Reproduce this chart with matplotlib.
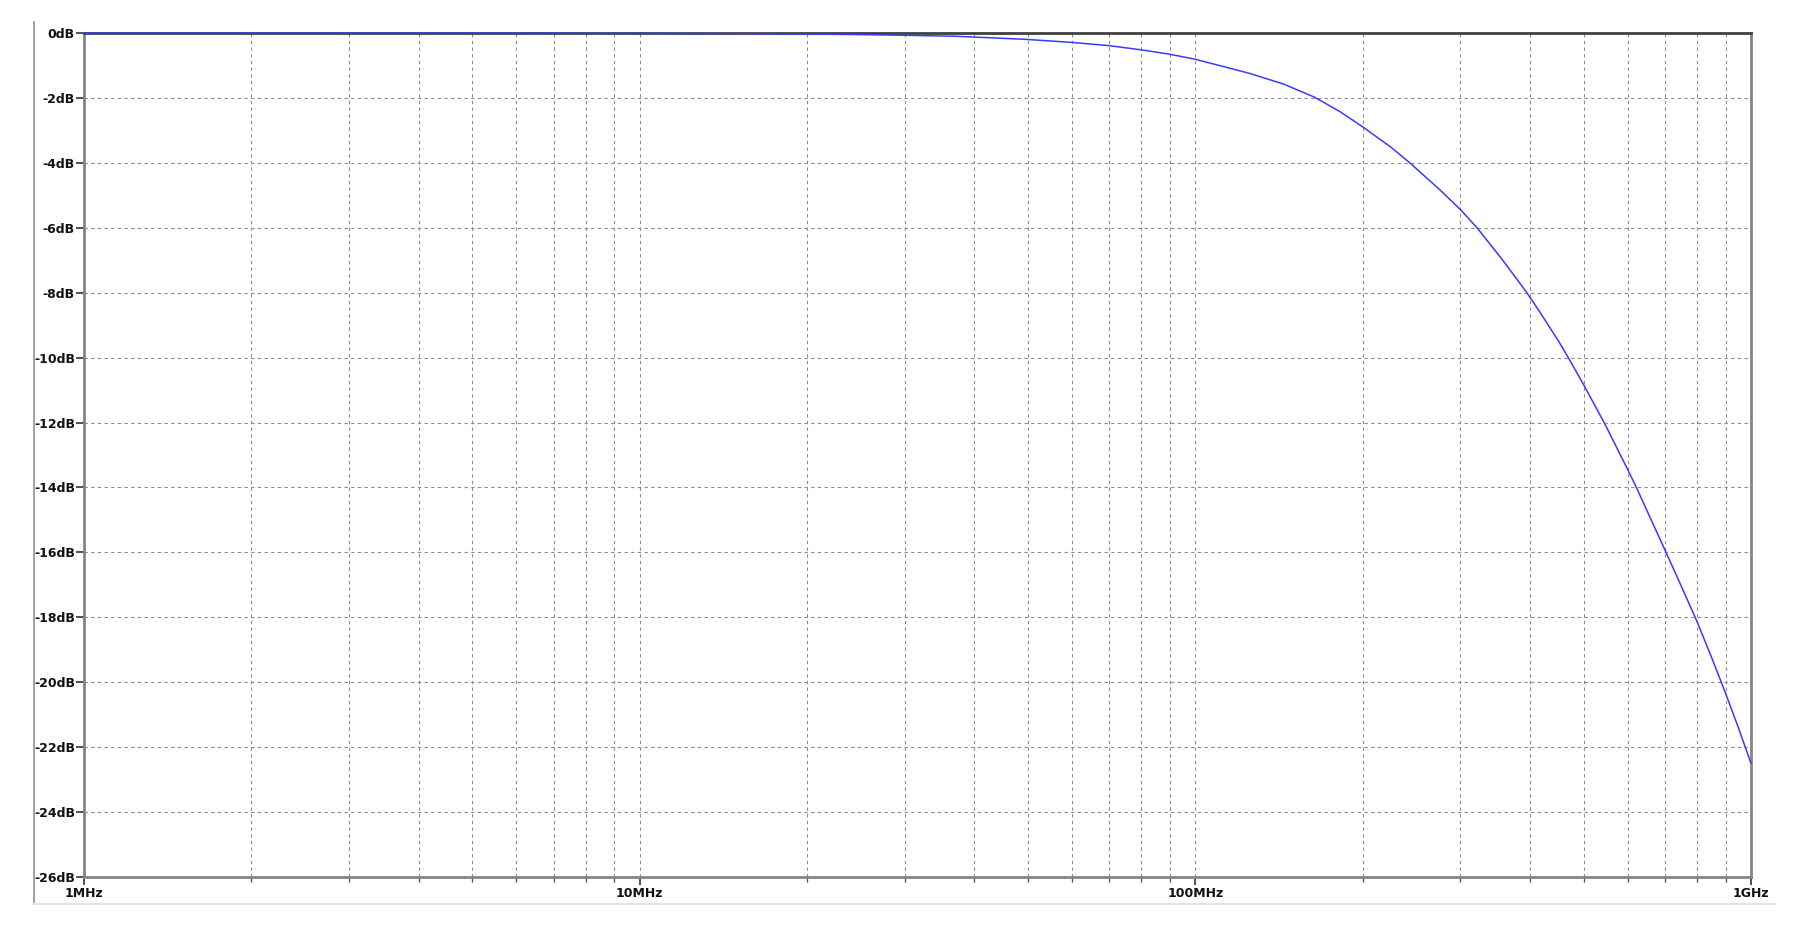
import matplotlib
matplotlib.use("Agg")
import matplotlib.pyplot as plt
from matplotlib.lines import Line2D
from matplotlib.ticker import FixedLocator, LogLocator, NullFormatter

# values (frequency in MHz, gain in dB)
freq_mhz = [1, 5, 10, 14, 20, 25, 30, 37, 44.5, 50, 60, 70, 80, 90, 100,
            125, 144, 164, 182, 200, 225, 244, 275, 300, 321, 350, 363,
            395, 417, 450, 469, 500, 546, 600, 622, 650, 702, 750, 800,
            850, 900, 950, 1000]
gain_db = [0.0, 0.0, -0.01, -0.02, -0.03, -0.05, -0.07, -0.10, -0.16, -0.20,
           -0.29, -0.39, -0.52, -0.655, -0.81, -1.24, -1.57, -1.98, -2.42,
           -2.89, -3.52, -4.02, -4.82, -5.44, -5.99, -6.8, -7.15, -8.0, -8.6,
           -9.48, -10.0, -10.84, -12.05, -13.45, -14.0, -14.72, -15.97, -17.06,
           -18.14, -19.25, -20.34, -21.42, -22.5]

x_major = [1e6, 1e7, 1e8, 1e9]
x_labels = ["1MHz", "10MHz", "100MHz", "1GHz"]
y_ticks = list(range(0, -27, -2))
y_labels = [f"{v}dB" for v in y_ticks]

W, H = 1802, 925
fig = plt.figure(figsize=(W / 100, H / 100), dpi=100)
ax = fig.add_axes([84 / W, 1 - 877 / H, (1751 - 84) / W, (877 - 33) / H])

freq_hz = [f * 1e6 for f in freq_mhz]
ax.plot(freq_hz, gain_db, color="#3a3aff", lw=1.1, zorder=3, clip_on=False)

ax.set_xscale("log")
ax.set_xlim(1e6, 1e9)
ax.set_ylim(-26, 0)

ax.xaxis.set_major_locator(FixedLocator(x_major))
ax.set_xticklabels(x_labels)
ax.xaxis.set_minor_locator(LogLocator(base=10, subs=range(2, 10)))
ax.xaxis.set_minor_formatter(NullFormatter())
ax.set_yticks(y_ticks)
ax.set_yticklabels(y_labels)

grid_kw = dict(color="#8c8c8c", lw=0.8, ls=(0, (3, 3)))
ax.grid(True, which="both", axis="x", **grid_kw)
ax.grid(True, which="major", axis="y", **grid_kw)

for lab in ax.get_xticklabels() + ax.get_yticklabels():
    lab.set_fontweight("bold")
    lab.set_fontsize(9)
    lab.set_color("#111111")

ax.tick_params(axis="y", which="major", direction="out", length=5.5, width=1.2,
               color="#333333", pad=1)
ax.tick_params(axis="x", which="major", direction="out", length=6, width=1.2,
               color="#333333", pad=1.5)
ax.tick_params(axis="x", which="minor", direction="out", length=3.5, width=1,
               color="#555555")

for side in ["left", "bottom", "right"]:
    ax.spines[side].set_color("#858585")
    ax.spines[side].set_linewidth(2)
ax.spines["top"].set_color("#404040")
ax.spines["top"].set_linewidth(2)

# outer window frame (L shape)
fig.add_artist(Line2D([34 / W, 34 / W], [1 - 22 / H, 1 - 904 / H],
                      transform=fig.transFigure, color="#9a9a9a", lw=1.3))
fig.add_artist(Line2D([34 / W, 1775 / W], [1 - 904 / H, 1 - 904 / H],
                      transform=fig.transFigure, color="#e4e4e4", lw=1.5))

fig.savefig("out.png", dpi=100)
